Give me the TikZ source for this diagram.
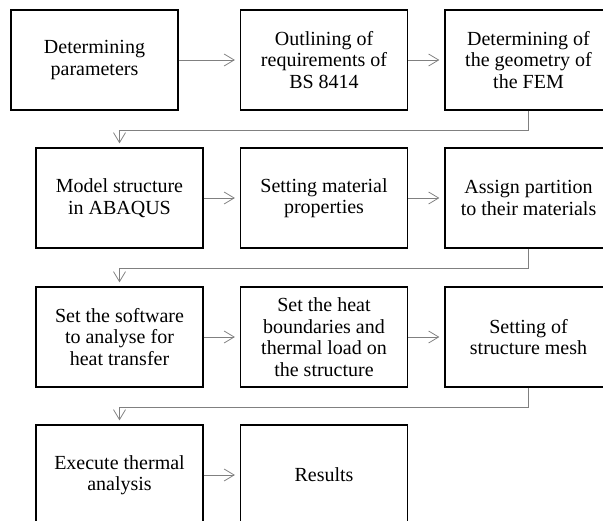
\documentclass[tikz,border=0pt]{standalone}
\usepackage{fontspec}
\setmainfont{Liberation Serif}
\usepackage{tikz}
\usetikzlibrary{positioning, calc, arrows.meta}

\begin{document}
\begin{tikzpicture}[
        x=1pt, y=-1pt,
        block/.style={
            rectangle,
            draw,
            line width=1.2pt,
            minimum width=167pt,
            minimum height=100pt,
            inner sep=0pt,
            align=center,
            font=\fontsize{20}{21.5}\selectfont
        },
        link/.style={
            draw=gray,
            line width=0.8pt,
            -{Straight Barb[length=10pt, width=12pt]},
            shorten >=5pt
        }
    ]

        % Frame of the figure
        \clip (0, 0) rectangle (603, 520);

        % First Row
        \node[block] (p1) at (94.5, 60) {Determining\\parameters};
        \node[block] (p2) at (324, 60) {Outlining of\\requirements of\\BS 8414};
        \node[block] (p3) at (528.5, 60) {Determining of\\the geometry of\\the FEM};
        \draw[link] (p1.east) -- (p2.west);
        \draw[link] (p2.east) -- (p3.west);

        % Second Row
        \node[block] (m1) at (119.5, 198) {Model structure\\in ABAQUS};
        \node[block] (m2) at (324, 198) {Setting material\\properties};
        \node[block] (m3) at (528.5, 198) {Assign partition\\to their materials};
        \draw[link] (m1.east) -- (m2.west);
        \draw[link] (m2.east) -- (m3.west);

        % Third Row
        \node[block] (h1) at (119.5, 337) {Set the software\\to analyse for\\heat transfer};
        \node[block] (h2) at (324, 337) {Set the heat\\boundaries and\\thermal load on\\the structure};
        \node[block] (h3) at (528.5, 337) {Setting of\\structure mesh};
        \draw[link] (h1.east) -- (h2.west);
        \draw[link] (h2.east) -- (h3.west);

        % Last Row
        \node[block] (r1) at (119.5, 475) {Execute thermal\\analysis};
        \node[block] (r2) at (324, 475) {Results};
        \draw[link] (r1.east) -- (r2.west);

        % Row to row connections
        \draw[link, shorten >=4pt] (p3.south) -- ++(0, 20) -| (m1.north);
        \draw[link, shorten >=4pt] (m3.south) -- ++(0, 20) -| (h1.north);
        \draw[link, shorten >=4pt] (h3.south) -- ++(0, 20) -| (r1.north);

    \end{tikzpicture}
\end{document}
